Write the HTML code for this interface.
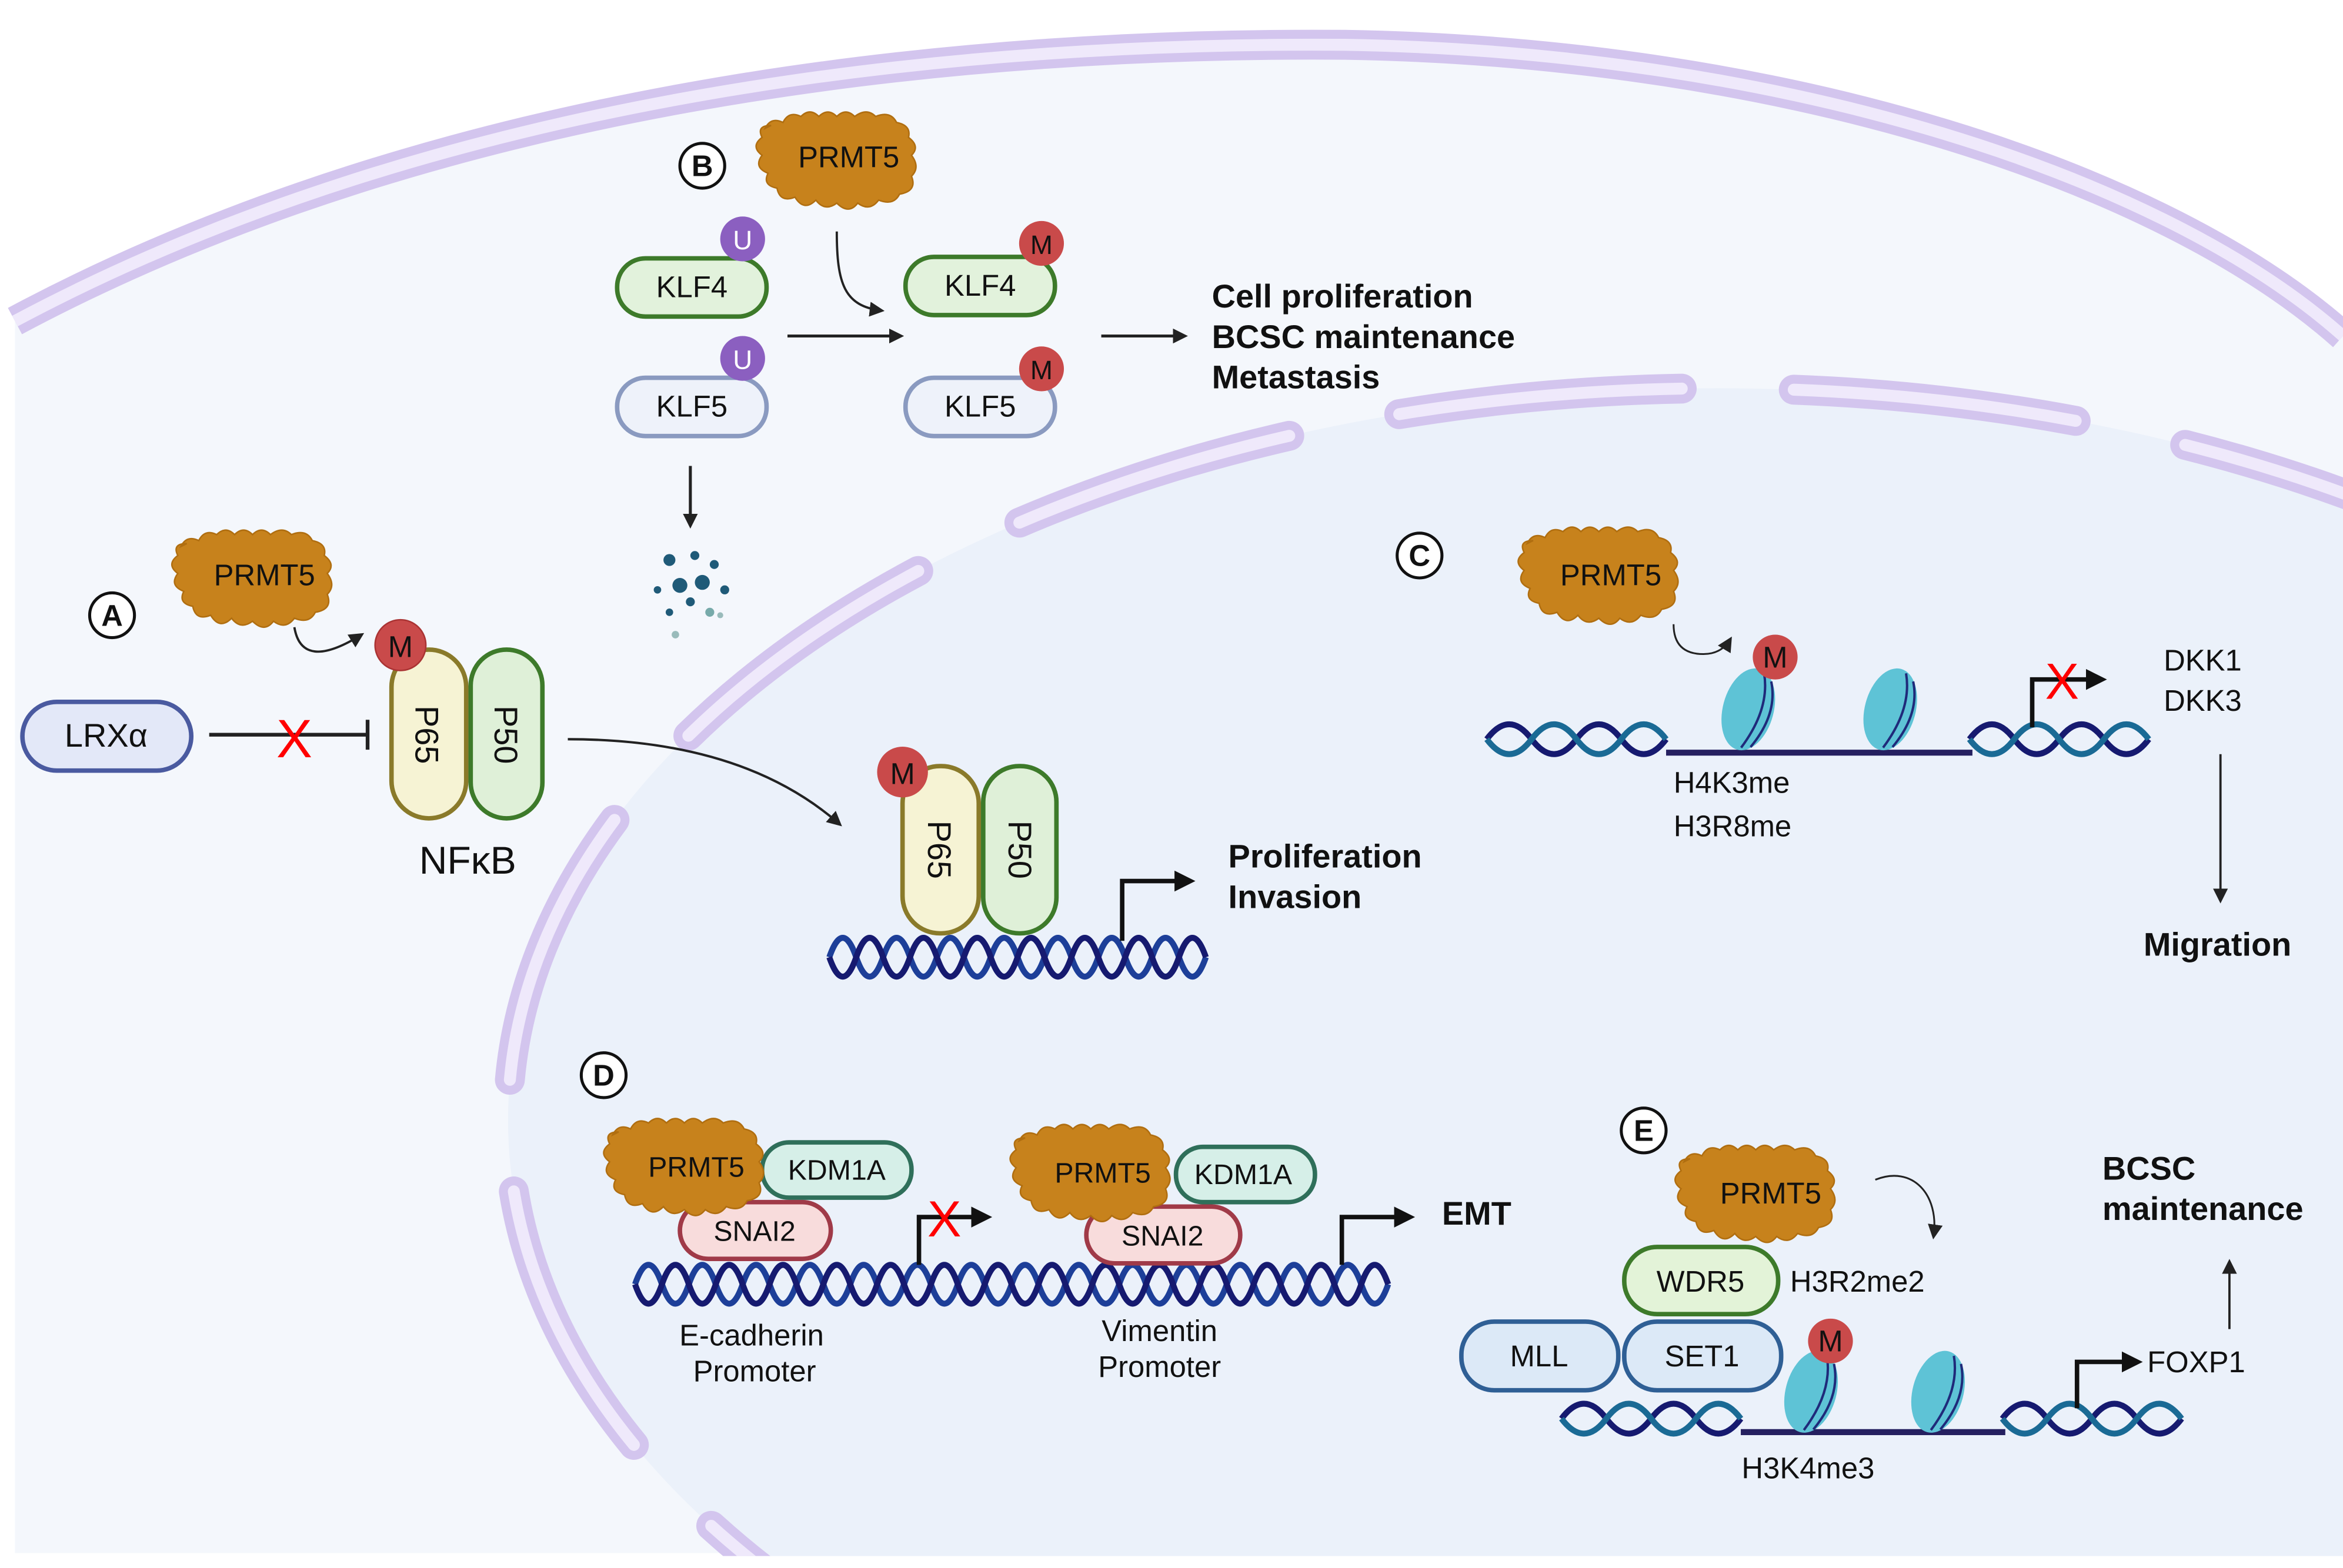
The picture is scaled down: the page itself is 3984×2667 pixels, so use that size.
<!DOCTYPE html>
<html><head><meta charset="utf-8"><style>
html,body{margin:0;padding:0;background:#fff;width:3984px;height:2667px;overflow:hidden;}
svg{display:block;position:absolute;left:0;top:0;}
text{font-family:"Liberation Sans",sans-serif;}
</style></head><body>
<svg width="3984" height="2667" viewBox="0 0 1568 1050" preserveAspectRatio="none" xmlns="http://www.w3.org/2000/svg">
<defs>
<path id="blob" d="M-56,-22 q4,-8 12,-4 q4,-8 12,-4 q6,-6 12,0 q6,-6 12,0 q6,-6 12,0 q8,-6 14,0 q10,-4 14,4 q10,2 8,10 q8,6 2,12 q6,8 0,14 q4,10 -8,12 q-4,8 -14,4 q-6,8 -14,2 q-6,8 -14,0 q-8,6 -14,-2 q-8,8 -14,-2 q-10,4 -12,-6 q-10,-2 -6,-10 q-10,-4 -4,-12 q-8,-6 0,-12 q-4,-8 6,-8 z" fill="#c7821c" stroke="#b06e10" stroke-width="1"/>
<marker id="ah" markerWidth="10" markerHeight="10" refX="8" refY="5" orient="auto" markerUnits="userSpaceOnUse"><path d="M0,0 L10,5 L0,10 z" fill="#222"/></marker>
<marker id="ahb" markerWidth="14" markerHeight="14" refX="4" refY="7" orient="auto" markerUnits="userSpaceOnUse"><path d="M0,0 L14,7 L0,14 z" fill="#111"/></marker>
<g id="nuc"><ellipse cx="0" cy="0" rx="17" ry="28" fill="#5ec3d6" transform="rotate(15)"/><path d="M4,-26 q10,22 -2,52 M10,-22 q10,20 -2,46" stroke="#1f2a7a" stroke-width="1.6" fill="none" transform="rotate(15)"/></g>
<clipPath id="cc"><rect x="0" y="0" width="1568" height="1042"/></clipPath>
</defs>
<path d="M10,215 C 300,60 650,28 900,30 C 1200,35 1450,120 1568,225 L1568,1040 L10,1040 Z" fill="#f4f7fc"/>
<path d="M10,215 C 300,60 650,28 900,30 C 1200,35 1450,120 1568,225" fill="none" stroke="#d3c5ee" stroke-width="20"/>
<path d="M10,215 C 300,60 650,28 900,30 C 1200,35 1450,120 1568,225" fill="none" stroke="#efe9fb" stroke-width="8"/>
<g clip-path="url(#cc)">
<ellipse cx="1150" cy="750" rx="810" ry="490" fill="#ebf1fa"/>
<ellipse cx="1150" cy="750" rx="810" ry="490" fill="none" stroke="#d3c5ee" stroke-width="20" stroke-linecap="round" stroke-dasharray="190 75" stroke-dashoffset="20"/>
<ellipse cx="1150" cy="750" rx="810" ry="490" fill="none" stroke="#efe9fb" stroke-width="8" stroke-linecap="round" stroke-dasharray="190 75" stroke-dashoffset="20"/>
</g>

<g font-size="20" fill="#111">
<g font-weight="bold" font-size="20" text-anchor="middle">
<circle cx="75" cy="412" r="15" fill="#fff" stroke="#111" stroke-width="2"/><text x="75" y="419">A</text>
<circle cx="470" cy="111" r="15" fill="#fff" stroke="#111" stroke-width="2"/><text x="470" y="118">B</text>
<circle cx="950" cy="372" r="15" fill="#fff" stroke="#111" stroke-width="2"/><text x="950" y="379">C</text>
<circle cx="404" cy="720" r="15" fill="#fff" stroke="#111" stroke-width="2"/><text x="404" y="727">D</text>
<circle cx="1100" cy="757" r="15" fill="#fff" stroke="#111" stroke-width="2"/><text x="1100" y="764">E</text>
</g>

<use href="#blob" x="177" y="388"/>
<text x="177" y="392" text-anchor="middle">PRMT5</text>
<path d="M197,420 q5,30 45,5" fill="none" stroke="#222" stroke-width="1.5" marker-end="url(#ah)"/>
<rect x="15" y="470" width="113" height="46" rx="23" fill="#e3e8f8" stroke="#4a5aa0" stroke-width="3"/>
<text x="71" y="500" text-anchor="middle" font-size="22">LRXα</text>
<line x1="140" y1="492" x2="246" y2="492" stroke="#222" stroke-width="2.5"/>
<line x1="246" y1="482" x2="246" y2="502" stroke="#222" stroke-width="2.5"/>
<text x="197" y="507" text-anchor="middle" fill="#f00" font-size="36">X</text>
<rect x="262" y="435" width="50" height="113" rx="25" fill="#f6f3d4" stroke="#8a7a2a" stroke-width="3"/>
<rect x="315" y="435" width="48" height="113" rx="24" fill="#dff0d8" stroke="#3d7a2a" stroke-width="3"/>
<text transform="translate(278,492) rotate(90)" text-anchor="middle" font-size="22">P65</text>
<text transform="translate(331,492) rotate(90)" text-anchor="middle" font-size="22">P50</text>
<circle cx="268" cy="432" r="17" fill="#c94a4a" stroke="#a33" stroke-width="1"/><text x="268" y="440" text-anchor="middle">M</text>
<text x="313" y="585" text-anchor="middle" font-size="26">NFκB</text>
<path d="M380,495 C 460,495 520,515 562,552" fill="none" stroke="#222" stroke-width="1.6" marker-end="url(#ah)"/>

<use href="#blob" x="568" y="108"/>
<text x="568" y="112" text-anchor="middle">PRMT5</text>
<rect x="413" y="173" width="100" height="39" rx="19" fill="#e2f2dc" stroke="#3d7a2a" stroke-width="3"/>
<text x="463" y="199" text-anchor="middle">KLF4</text>
<circle cx="497" cy="160" r="15" fill="#8b5fc0"/><text x="497" y="167" text-anchor="middle" fill="#fff" font-size="18">U</text>
<rect x="413" y="253" width="100" height="39" rx="19" fill="#eef2fa" stroke="#8a9ac0" stroke-width="3"/>
<text x="463" y="279" text-anchor="middle">KLF5</text>
<circle cx="497" cy="240" r="15" fill="#8b5fc0"/><text x="497" y="247" text-anchor="middle" fill="#fff" font-size="18">U</text>
<line x1="527" y1="225" x2="603" y2="225" stroke="#222" stroke-width="2" marker-end="url(#ah)"/>
<path d="M560,155 C 560,190 565,205 590,208" fill="none" stroke="#222" stroke-width="1.5" marker-end="url(#ah)"/>
<rect x="606" y="172" width="100" height="39" rx="19" fill="#e2f2dc" stroke="#3d7a2a" stroke-width="3"/>
<text x="656" y="198" text-anchor="middle">KLF4</text>
<circle cx="697" cy="163" r="15" fill="#c94a4a"/><text x="697" y="170" text-anchor="middle" font-size="18">M</text>
<rect x="606" y="253" width="100" height="39" rx="19" fill="#eef2fa" stroke="#8a9ac0" stroke-width="3"/>
<text x="656" y="279" text-anchor="middle">KLF5</text>
<circle cx="697" cy="247" r="15" fill="#c94a4a"/><text x="697" y="254" text-anchor="middle" font-size="18">M</text>
<line x1="737" y1="225" x2="793" y2="225" stroke="#222" stroke-width="2" marker-end="url(#ah)"/>
<g font-weight="bold" font-size="22"><text x="811" y="206">Cell proliferation</text><text x="811" y="233">BCSC maintenance</text><text x="811" y="260">Metastasis</text></g>
<line x1="462" y1="312" x2="462" y2="352" stroke="#222" stroke-width="2" marker-end="url(#ah)"/>
<g fill="#1f5a78"><circle cx="448" cy="375" r="4"/><circle cx="465" cy="372" r="3"/><circle cx="478" cy="378" r="3"/><circle cx="455" cy="392" r="5"/><circle cx="470" cy="390" r="5"/><circle cx="485" cy="395" r="3"/><circle cx="440" cy="395" r="2.5"/><circle cx="462" cy="403" r="3"/><circle cx="448" cy="410" r="2.5"/><circle cx="475" cy="410" r="3" fill="#7aa"/><circle cx="452" cy="425" r="2.5" fill="#9bb"/><circle cx="482" cy="412" r="2" fill="#9bb"/></g>

<g stroke-width="4" fill="none">
<path d="M555,641 q9,-26 18,0 t18,0 t18,0 t18,0 t18,0 t18,0 t18,0 t18,0 t18,0 t18,0 t18,0 t18,0 t18,0 t18,0" stroke="#1d3f99"/>
<path d="M555,641 q9,26 18,0 t18,0 t18,0 t18,0 t18,0 t18,0 t18,0 t18,0 t18,0 t18,0 t18,0 t18,0 t18,0 t18,0" stroke="#161a70"/>
</g>
<rect x="604" y="513" width="51" height="112" rx="25" fill="#f6f3d4" stroke="#8a7a2a" stroke-width="3"/>
<rect x="658" y="513" width="49" height="112" rx="24" fill="#dff0d8" stroke="#3d7a2a" stroke-width="3"/>
<text transform="translate(621,569) rotate(90)" text-anchor="middle" font-size="22">P65</text>
<text transform="translate(675,569) rotate(90)" text-anchor="middle" font-size="22">P50</text>
<circle cx="604" cy="517" r="17" fill="#c94a4a"/><text x="604" y="525" text-anchor="middle">M</text>
<path d="M751,630 L751,590 L790,590" fill="none" stroke="#111" stroke-width="3" marker-end="url(#ahb)"/>
<g font-weight="bold" font-size="22"><text x="822" y="581">Proliferation</text><text x="822" y="608">Invasion</text></g>

<use href="#blob" x="1078" y="386"/>
<text x="1078" y="392" text-anchor="middle">PRMT5</text>
<path d="M1120,418 q0,20 20,20 q12,0 18,-10" fill="none" stroke="#222" stroke-width="1.2" marker-end="url(#ah)"/>
<g stroke-width="4" fill="none">
<path d="M995,495 q15,-20 30,0 t30,0 t30,0 t30,0" stroke="#161a70"/>
<path d="M995,495 q15,20 30,0 t30,0 t30,0 t30,0" stroke="#1a6a95"/>
<path d="M1318,495 q15,-20 30,0 t30,0 t30,0 t30,0" stroke="#161a70"/>
<path d="M1318,495 q15,20 30,0 t30,0 t30,0 t30,0" stroke="#1a6a95"/>
<line x1="1115" y1="504" x2="1320" y2="504" stroke="#252060"/>
</g>
<use href="#nuc" x="1170" y="475"/><use href="#nuc" x="1265" y="475"/>
<circle cx="1188" cy="440" r="15" fill="#c94a4a"/><text x="1188" y="447" text-anchor="middle">M</text>
<path d="M1360,487 L1360,455 L1400,455" fill="none" stroke="#111" stroke-width="3" marker-end="url(#ahb)"/>
<text x="1380" y="468" text-anchor="middle" fill="#f00" font-size="34">X</text>
<text x="1448" y="449">DKK1</text><text x="1448" y="476">DKK3</text>
<line x1="1486" y1="505" x2="1486" y2="603" stroke="#222" stroke-width="1.5" marker-end="url(#ah)"/>
<text x="1484" y="640" text-anchor="middle" font-weight="bold" font-size="22">Migration</text>
<text x="1120" y="531">H4K3me</text><text x="1120" y="560">H3R8me</text>

<g stroke-width="4" fill="none">
<path d="M425,860 q9,-26 18,0 t18,0 t18,0 t18,0 t18,0 t18,0 t18,0 t18,0 t18,0 t18,0 t18,0 t18,0 t18,0 t18,0 t18,0 t18,0 t18,0 t18,0 t18,0 t18,0 t18,0 t18,0 t18,0 t18,0 t18,0 t18,0 t18,0 t18,0" stroke="#1d3f99"/>
<path d="M425,860 q9,26 18,0 t18,0 t18,0 t18,0 t18,0 t18,0 t18,0 t18,0 t18,0 t18,0 t18,0 t18,0 t18,0 t18,0 t18,0 t18,0 t18,0 t18,0 t18,0 t18,0 t18,0 t18,0 t18,0 t18,0 t18,0 t18,0 t18,0 t18,0" stroke="#161a70"/>
</g>
<rect x="510" y="765" width="100" height="37" rx="18" fill="#d6efe8" stroke="#2f6f5a" stroke-width="3"/>
<text x="560" y="790" text-anchor="middle" font-size="19">KDM1A</text>
<rect x="455" y="805" width="101" height="38" rx="19" fill="#f8dcdc" stroke="#a03a48" stroke-width="3"/>
<text x="505" y="831" text-anchor="middle" font-size="19">SNAI2</text>
<use href="#blob" x="466" y="782"/>
<text x="466" y="788" text-anchor="middle" font-size="19">PRMT5</text>
<path d="M615,847 L615,815 L654,815" fill="none" stroke="#111" stroke-width="3" marker-end="url(#ahb)"/>
<text x="632" y="828" text-anchor="middle" fill="#f00" font-size="34">X</text>
<rect x="787" y="768" width="93" height="37" rx="18" fill="#d6efe8" stroke="#2f6f5a" stroke-width="3"/>
<text x="832" y="793" text-anchor="middle" font-size="19">KDM1A</text>
<rect x="727" y="808" width="103" height="38" rx="19" fill="#f8dcdc" stroke="#a03a48" stroke-width="3"/>
<text x="778" y="834" text-anchor="middle" font-size="19">SNAI2</text>
<use href="#blob" x="738" y="786"/>
<text x="738" y="792" text-anchor="middle" font-size="19">PRMT5</text>
<path d="M898,847 L898,815 L937,815" fill="none" stroke="#111" stroke-width="3" marker-end="url(#ahb)"/>
<text x="965" y="820" font-weight="bold" font-size="22">EMT</text>
<text x="503" y="901" text-anchor="middle">E-cadherin</text><text x="505" y="925" text-anchor="middle">Promoter</text>
<text x="776" y="898" text-anchor="middle">Vimentin</text><text x="776" y="922" text-anchor="middle">Promoter</text>

<use href="#blob" x="1183" y="800"/>
<text x="1185" y="806" text-anchor="middle">PRMT5</text>
<path d="M1255,790 C 1280,780 1298,800 1294,828" fill="none" stroke="#222" stroke-width="1.2" marker-end="url(#ah)"/>
<rect x="1087" y="835" width="103" height="45" rx="22" fill="#e3f3d8" stroke="#3d7a2a" stroke-width="3"/>
<text x="1138" y="865" text-anchor="middle">WDR5</text>
<text x="1198" y="865">H3R2me2</text>
<rect x="978" y="885" width="105" height="46" rx="22" fill="#dce9f7" stroke="#2f5f95" stroke-width="3"/>
<text x="1030" y="915" text-anchor="middle">MLL</text>
<rect x="1087" y="885" width="105" height="46" rx="22" fill="#dce9f7" stroke="#2f5f95" stroke-width="3"/>
<text x="1139" y="915" text-anchor="middle">SET1</text>
<g stroke-width="4" fill="none">
<path d="M1045,950 q15,-20 30,0 t30,0 t30,0 t30,0" stroke="#161a70"/>
<path d="M1045,950 q15,20 30,0 t30,0 t30,0 t30,0" stroke="#1a6a95"/>
<path d="M1340,950 q15,-20 30,0 t30,0 t30,0 t30,0" stroke="#161a70"/>
<path d="M1340,950 q15,20 30,0 t30,0 t30,0 t30,0" stroke="#1a6a95"/>
<line x1="1165" y1="959" x2="1342" y2="959" stroke="#252060"/>
</g>
<use href="#nuc" x="1212" y="932"/><use href="#nuc" x="1297" y="932"/>
<circle cx="1225" cy="898" r="15" fill="#c94a4a"/><text x="1225" y="905" text-anchor="middle">M</text>
<path d="M1390,943 L1390,912 L1424,912" fill="none" stroke="#111" stroke-width="3" marker-end="url(#ahb)"/>
<text x="1437" y="919">FOXP1</text>
<line x1="1492" y1="890" x2="1492" y2="845" stroke="#222" stroke-width="1.5" marker-end="url(#ah)"/>
<g font-weight="bold" font-size="22"><text x="1407" y="790">BCSC</text><text x="1407" y="817">maintenance</text></g>
<text x="1210" y="990" text-anchor="middle">H3K4me3</text>
</g>
</svg>
</body></html>
